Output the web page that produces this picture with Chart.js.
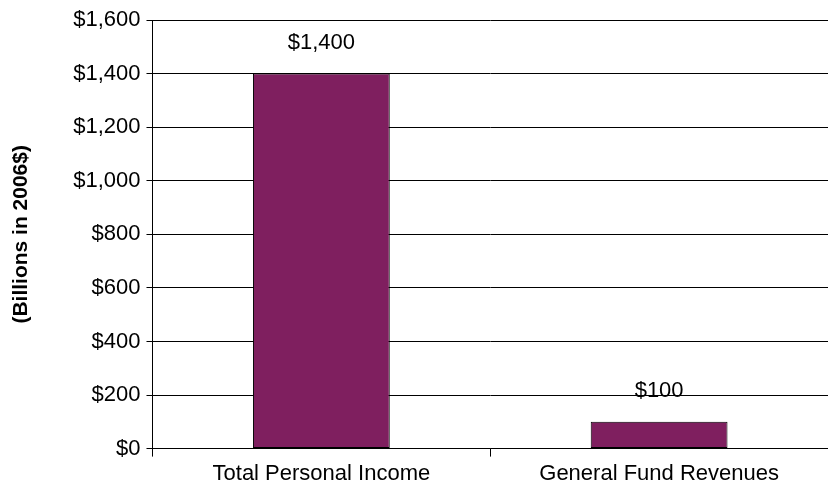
<!DOCTYPE html>
<html><head><script src="https://cdn.jsdelivr.net/npm/chart.js@4/dist/chart.umd.min.js"></script>
<style>body{margin:0;background:#fff}#w{width:828px;height:492px}</style></head>
<body><div id="w"><canvas id="c"></canvas></div>
<script>
const categories=["Total Personal Income","General Fund Revenues"];
const values=[1400,100];
const fmt=v=>"$"+v.toLocaleString("en-US");
const F="'Liberation Sans', Arial";
const labelPlugin={id:"lbl",afterDatasetsDraw(ch){const ctx=ch.ctx;const m=ch.getDatasetMeta(0);ctx.save();ctx.font="22px "+F;ctx.fillStyle="#000";ctx.textAlign="center";ctx.textBaseline="bottom";m.data.forEach((b,i)=>ctx.fillText(fmt(values[i]),b.x,b.y-20));ctx.restore();}};
new Chart(document.getElementById("c"),{type:"bar",data:{labels:categories,datasets:[{data:values,backgroundColor:"#7F1F5F",borderColor:"#000",borderWidth:1,borderSkipped:false,categoryPercentage:0.81,barPercentage:0.5}]},
options:{responsive:true,maintainAspectRatio:false,animation:false,layout:{padding:{top:20,right:0,left:9,bottom:1}},
plugins:{legend:{display:false},tooltip:{enabled:false}},
scales:{x:{offset:true,grid:{offset:true,drawOnChartArea:false,color:"#000",tickLength:8},border:{color:"#000"},ticks:{color:"#000",font:{family:F,size:22},padding:4}},
y:{min:0,max:1600,ticks:{stepSize:200,color:"#000",callback:v=>fmt(v),font:{family:F,size:22},padding:6},grid:{color:"#000",tickLength:6},border:{color:"#000"},
title:{display:true,text:"(Billions in 2006$)",color:"#000",font:{family:F,size:21,weight:"bold"},padding:{top:0,bottom:33}}}}},plugins:[labelPlugin]});
</script></body></html>
